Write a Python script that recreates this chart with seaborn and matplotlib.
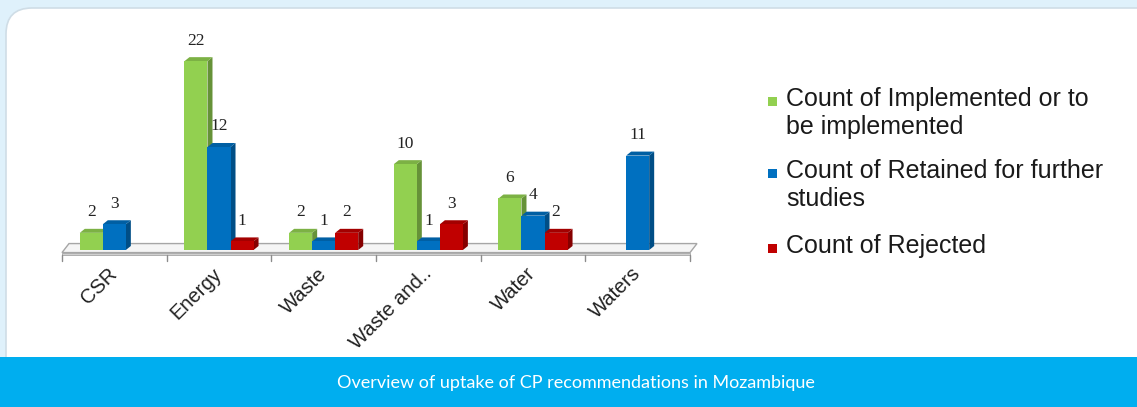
import numpy as np
import pandas as pd
import seaborn as sns
import matplotlib
matplotlib.use("Agg")
import matplotlib.pyplot as plt
from matplotlib.patches import Polygon, FancyBboxPatch, Rectangle
from matplotlib.colors import to_rgb

# ---------------- data ----------------
categories = ["CSR", "Energy", "Waste", "Waste and..", "Water", "Waters"]
series = ["Count of Implemented or to\nbe implemented",
          "Count of Retained for further\nstudies",
          "Count of Rejected"]
implemented = [2, 22, 2, 10, 6, np.nan]
retained = [3, 12, 1, 1, 4, 11]
rejected = [np.nan, 1, 2, 3, 2, np.nan]
colors = ["#92d050", "#0070c0", "#c00000"]
caption = "Overview of uptake of CP recommendations in Mozambique"

rows = []
for s, vals in zip(series, [implemented, retained, rejected]):
    for c, v in zip(categories, vals):
        rows.append({"category": c, "series": s, "value": v})
df = pd.DataFrame(rows)

# ---------------- figure ----------------
W, H = 1137, 407
sns.set_theme(style="white")
plt.rcParams["font.family"] = ["Liberation Sans", "DejaVu Sans"]
fig = plt.figure(figsize=(W / 100, H / 100), dpi=100, facecolor="#dff1fb")

bg = fig.add_axes([0, 0, 1, 1], zorder=-5)
bg.set_xlim(0, W)
bg.set_ylim(0, H)
bg.axis("off")
panel = FancyBboxPatch((6, -40), 1300, 439, boxstyle="round,pad=0,rounding_size=26",
                       fc="white", ec="#cfdde6", lw=1.2)
bg.add_patch(panel)
bg.add_patch(Rectangle((0, 0), W, 50, fc="#00aeef", ec="none"))
bg.text(576, 24, caption, color="white", fontsize=13, ha="center", va="center",
        family=["Lato", "DejaVu Sans"], fontweight="normal")

ax = fig.add_axes([62 / W, 157 / H, 628 / W, 200 / H])
ax.set_facecolor("none")
sns.barplot(data=df, x="category", y="value", hue="series", order=categories,
            hue_order=series, palette=colors, saturation=1, width=0.66,
            errorbar=None, legend=False, ax=ax)
ax.set_xlim(-0.5, 5.5)
ax.set_ylim(0, 23.3)
for sp in ax.spines.values():
    sp.set_visible(False)
ax.set_xlabel("")
ax.set_ylabel("")
ax.set_yticks([])

sx = 628 / 6.0
sy = 200 / 23.3
dx, dy = 5 / sx, 4 / sy

def shade(c, f):
    r, g, b = to_rgb(c)
    if f < 1:
        return (r * f, g * f, b * f)
    return tuple(min(1, v + (1 - v) * (f - 1)) for v in (r, g, b))

for p in list(ax.patches):
    h = p.get_height()
    if not np.isfinite(h) or h <= 0:
        continue
    x0, w = p.get_x(), p.get_width()
    fc = p.get_facecolor()[:3]
    p.set_edgecolor("none")
    p.set_zorder(4)
    ax.add_patch(Polygon([(x0 + w, 0), (x0 + w + dx, dy), (x0 + w + dx, h + dy), (x0 + w, h)],
                         closed=True, fc=shade(fc, 0.7), ec="none", zorder=2))
    ax.add_patch(Polygon([(x0, h), (x0 + w, h), (x0 + w + dx, h + dy), (x0 + dx, h + dy)],
                         closed=True, fc=shade(fc, 0.85), ec="none", zorder=3))

# floor
f0, f1 = -0.3, 0.75
dxf = 7 / sx
t = 2 / sy
ax.add_patch(Polygon([(-0.5, f0), (5.5, f0), (5.5 + dxf, f1), (-0.5 + dxf, f1)], closed=True,
                     fc="#f5f5f5", ec="#a6a6a6", lw=1, zorder=1, clip_on=False))
ax.add_patch(Polygon([(-0.5, f0), (5.5, f0), (5.5, f0 - t), (-0.5, f0 - t)], closed=True,
                     fc="#d0d0d0", ec="#a6a6a6", lw=0.6, zorder=1, clip_on=False))
for b in np.arange(-0.5, 6.0, 1.0):
    ax.plot([b, b], [f0 - t, f0 - t - 6 / sy], color="#8c8c8c", lw=1, clip_on=False, zorder=1)

# data labels
for cont in ax.containers:
    labels = [("%g" % r.get_height()) if np.isfinite(r.get_height()) and r.get_height() > 0 else ""
              for r in cont]
    ax.bar_label(cont, labels=labels, padding=9, fontsize=12.5, color="#222222",
                 family=["Liberation Serif", "DejaVu Serif"])

ax.set_xticks(range(len(categories)))
ax.set_xticklabels(categories)
ax.tick_params(axis="x", length=0, pad=15)
for lbl in ax.get_xticklabels():
    lbl.set_rotation(45)
    lbl.set_ha("right")
    lbl.set_va("center")
    lbl.set_rotation_mode("anchor")
    lbl.set_fontsize(14.5)
    lbl.set_color("#222222")

# legend (drawn in pixel space of background axes)
ly = [H - 101, H - 173, H - 248]
for c, s, y in zip(colors, series, ly):
    bg.add_patch(Rectangle((768, y - 4.5), 9, 9, fc=c, ec="none"))
    bg.text(786, y + 14, s, fontsize=18, va="top", ha="left", color="#1a1a1a",
            linespacing=1.2)

fig.savefig("out.png", dpi=100, facecolor=fig.get_facecolor())
